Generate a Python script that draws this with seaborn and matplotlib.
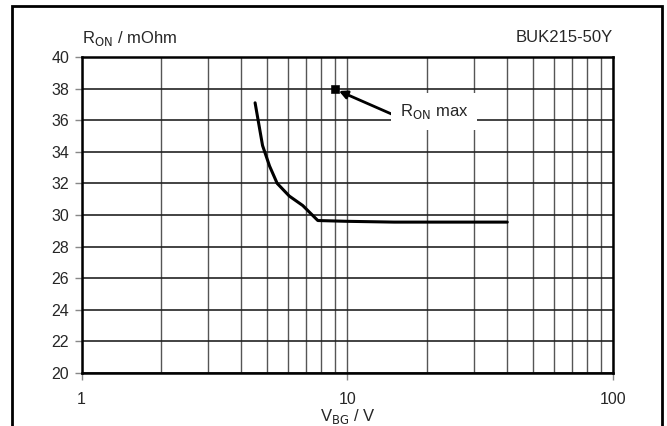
import numpy as np
import pandas as pd
import seaborn as sns
import matplotlib
matplotlib.use('Agg')
import matplotlib.pyplot as plt
from matplotlib.patches import Rectangle
from matplotlib.ticker import FixedLocator, NullFormatter

# curve
v_bg = [4.5, 4.8, 5.1, 5.45, 6.05, 6.8, 7.75, 10, 15, 20, 30, 40]
r_on = [37.1, 34.4, 33.1, 32.0, 31.2, 30.6, 29.65, 29.6, 29.55, 29.55, 29.55, 29.55]

# max point
max_v = [9.0]
max_r = [38.0]

y_ticks = [20, 22, 24, 26, 28, 30, 32, 34, 36, 38, 40]
x_ticks = [1, 10, 100]
x_tick_labels = ['1', '10', '100']

df = pd.DataFrame({'v': v_bg, 'r': r_on})
df_max = pd.DataFrame({'v': max_v, 'r': max_r})

sns.set_style('white')
plt.rcParams['font.family'] = ['Liberation Sans', 'DejaVu Sans']

fig = plt.figure(figsize=(6.67, 4.26), dpi=100)
ax = fig.add_axes([81.5 / 667, (426 - 373) / 426, (613 - 81.5) / 667, (373 - 57) / 426])

sns.lineplot(data=df, x='v', y='r', ax=ax, color='black', linewidth=2.2, zorder=5)
sns.scatterplot(data=df_max, x='v', y='r', ax=ax, color='black', marker='s', s=30,
                edgecolor='black', zorder=6)

ax.set_xscale('log')
ax.set_xlim(1, 100)
ax.set_ylim(20, 40)
ax.xaxis.set_major_locator(FixedLocator(x_ticks))
ax.set_xticklabels(x_tick_labels)
minor = [m * d for d in (1, 10) for m in range(2, 10)]
ax.xaxis.set_minor_locator(FixedLocator(minor))
ax.xaxis.set_minor_formatter(NullFormatter())
ax.set_yticks(y_ticks)
ax.set_yticklabels([str(t) for t in y_ticks])

ax.grid(True, which='major', axis='y', color='#222222', linewidth=1.2)
ax.grid(True, which='both', axis='x', color='#555555', linewidth=1.0)
ax.set_axisbelow(True)

for s in ax.spines.values():
    s.set_color('black')
    s.set_linewidth(1.8)

ax.tick_params(axis='both', which='major', labelsize=11.5, length=5, width=1,
               color='#888888', pad=4, direction='out', bottom=True, left=True)
ax.tick_params(axis='x', which='minor', length=0)
ax.tick_params(axis='x', pad=9)

ax.set_xlabel('')
ax.set_ylabel('')

# arrow to the max point, then the label with a white box over the grid
ax.annotate('', xy=(9.3, 37.85), xytext=(15.1, 36.3),
            arrowprops=dict(arrowstyle='-|>', color='black', lw=2,
                            mutation_scale=12, shrinkA=0, shrinkB=0),
            zorder=7)
ax.text(21.2, 36.55, r'R$_{\mathrm{ON}}$ max', fontsize=12, va='center', ha='center',
        bbox=dict(boxstyle='square,pad=0.55', fc='white', ec='none'), zorder=8)

fig.text(81.5 / 667, 1 - 38 / 426, r'R$_{\mathrm{ON}}$ / mOhm', fontsize=12,
         ha='left', va='center')
fig.text(613 / 667, 1 - 38 / 426, 'BUK215-50Y', fontsize=12, ha='right', va='center')
fig.text(348 / 667, 1 - 416 / 426, r'V$_{\mathrm{BG}}$ / V', fontsize=12,
         ha='center', va='center')

# outer frame
fig.patches.append(Rectangle((12 / 667, -0.05), (662 - 12) / 667, 1.05 - 6 / 426,
                             transform=fig.transFigure, fill=False,
                             edgecolor='black', linewidth=2))

fig.savefig('out.png', dpi=100)
